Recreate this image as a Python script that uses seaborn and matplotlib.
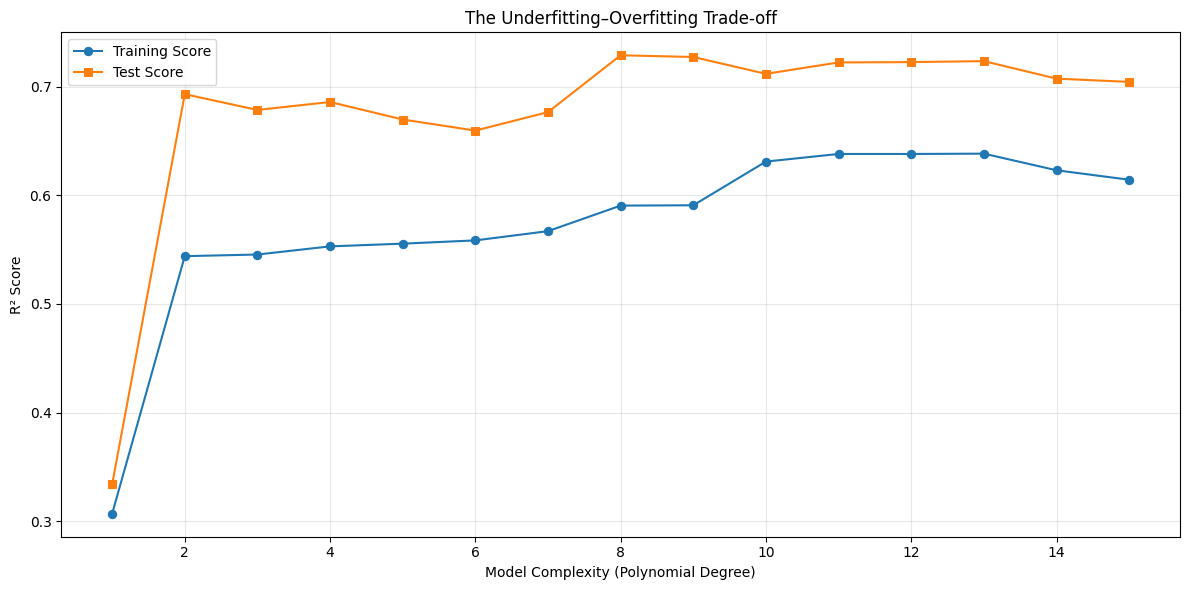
import numpy as np
import pandas as pd
import seaborn as sns
import matplotlib
matplotlib.use("Agg")
import matplotlib.pyplot as plt

# values
degrees = list(range(1, 16))
train_scores = [0.307, 0.544, 0.5455, 0.553, 0.5555, 0.5585, 0.567, 0.5905, 0.5908,
                0.631, 0.638, 0.638, 0.6383, 0.623, 0.6143]
test_scores = [0.334, 0.693, 0.6785, 0.6858, 0.6697, 0.6595, 0.6765, 0.7288, 0.7272,
               0.7117, 0.7222, 0.7225, 0.7234, 0.7073, 0.7043]

df = pd.DataFrame({"degree": degrees, "train": train_scores, "test": test_scores})

fig, ax = plt.subplots(figsize=(12, 6), dpi=100)
sns.lineplot(x="degree", y="train", data=df, marker="o", color="#1f77b4",
             markeredgecolor="#1f77b4", markersize=6, linewidth=1.5,
             label="Training Score", ax=ax)
sns.lineplot(x="degree", y="test", data=df, marker="s", color="#ff7f0e",
             markeredgecolor="#ff7f0e", markersize=6, linewidth=1.5,
             label="Test Score", ax=ax)

ax.set(title="The Underfitting\u2013Overfitting Trade-off",
       xlabel="Model Complexity (Polynomial Degree)", ylabel="R\u00b2 Score")
ax.grid(True, alpha=0.3)
ax.legend(loc="upper left")
plt.tight_layout()
plt.savefig("out.png", bbox_inches="tight")
